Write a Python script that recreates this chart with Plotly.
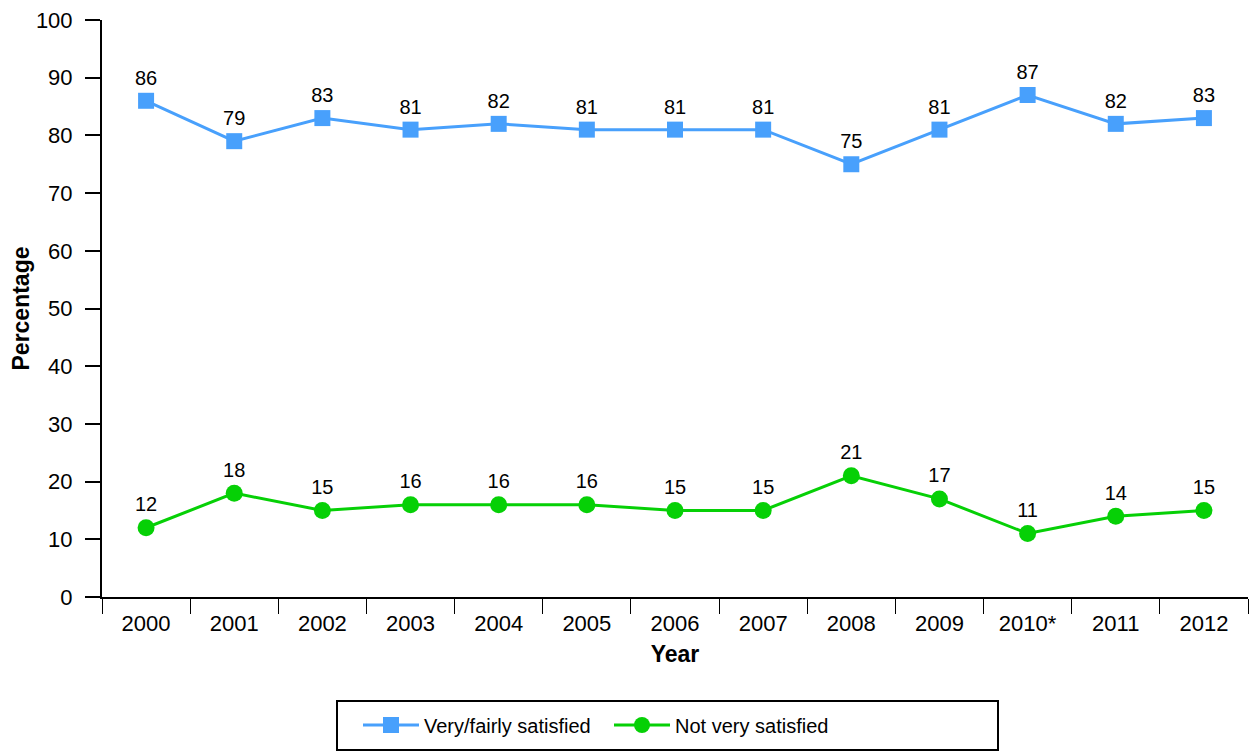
import plotly.graph_objects as go

years = ["2000", "2001", "2002", "2003", "2004", "2005", "2006", "2007",
         "2008", "2009", "2010*", "2011", "2012"]
satisfied = [86, 79, 83, 81, 82, 81, 81, 81, 75, 81, 87, 82, 83]
not_satisfied = [12, 18, 15, 16, 16, 16, 15, 15, 21, 17, 11, 14, 15]
y_ticks = list(range(0, 101, 10))

FONT = "Liberation Sans, Arial, Helvetica, sans-serif"

# plot area in pixels: left 102, right 1248, top 20, bottom 597
PL, PR, PT, PB = 102, 1248, 20, 597


def px_x(p):
    return (p - PL) / (PR - PL)


def px_y(p):
    return (PB - p) / (PB - PT)


fig = go.Figure()
fig.add_trace(go.Scatter(
    x=years, y=satisfied, name="Very/fairly satisfied",
    mode="lines+markers+text",
    line=dict(color="#48a0fc", width=3),
    marker=dict(symbol="square", size=16, color="#48a0fc"),
    text=[str(v) for v in satisfied], textposition="top center",
    textfont=dict(size=20, color="black", family=FONT),
    cliponaxis=False,
))
fig.add_trace(go.Scatter(
    x=years, y=not_satisfied, name="Not very satisfied",
    mode="lines+markers+text",
    line=dict(color="#06d006", width=3),
    marker=dict(symbol="circle", size=17, color="#06d006"),
    text=[str(v) for v in not_satisfied], textposition="top center",
    textfont=dict(size=20, color="black", family=FONT),
    cliponaxis=False,
))

# legend frame
fig.add_shape(
    type="rect", xref="paper", yref="paper",
    x0=px_x(337), x1=px_x(998), y0=px_y(750), y1=px_y(701),
    line=dict(color="black", width=2), fillcolor="rgba(0,0,0,0)",
)

fig.update_layout(
    width=1254, height=752,
    margin=dict(l=PL, r=1254 - PR, t=PT, b=752 - PB),
    paper_bgcolor="white", plot_bgcolor="white",
    font=dict(family=FONT, size=22, color="black"),
    showlegend=True,
    legend=dict(
        orientation="h", x=px_x(358), xanchor="left",
        y=px_y(725), yanchor="middle",
        borderwidth=0, bgcolor="rgba(0,0,0,0)",
        font=dict(size=20, family=FONT),
        itemwidth=56, entrywidth=180,
    ),
    xaxis=dict(
        type="category", categoryorder="array", categoryarray=years,
        range=[-0.5, 12.5],
        showline=True, linecolor="black", linewidth=2,
        ticks="outside", tickson="boundaries", ticklen=15, tickwidth=1,
        tickcolor="black", showgrid=False, zeroline=False,
        tickfont=dict(size=22), ticklabelstandoff=6,
        title=dict(text="<b>Year</b>", font=dict(size=23), standoff=10),
    ),
    yaxis=dict(
        range=[0, 100], tickvals=y_ticks,
        showline=True, linecolor="black", linewidth=2,
        ticks="outside", ticklen=15, tickwidth=1.5, tickcolor="black",
        showgrid=False, zeroline=False,
        tickfont=dict(size=22), ticklabelstandoff=8,
        title=dict(text="<b>Percentage</b>", font=dict(size=23), standoff=0),
    ),
)

fig.write_html("out.html")
